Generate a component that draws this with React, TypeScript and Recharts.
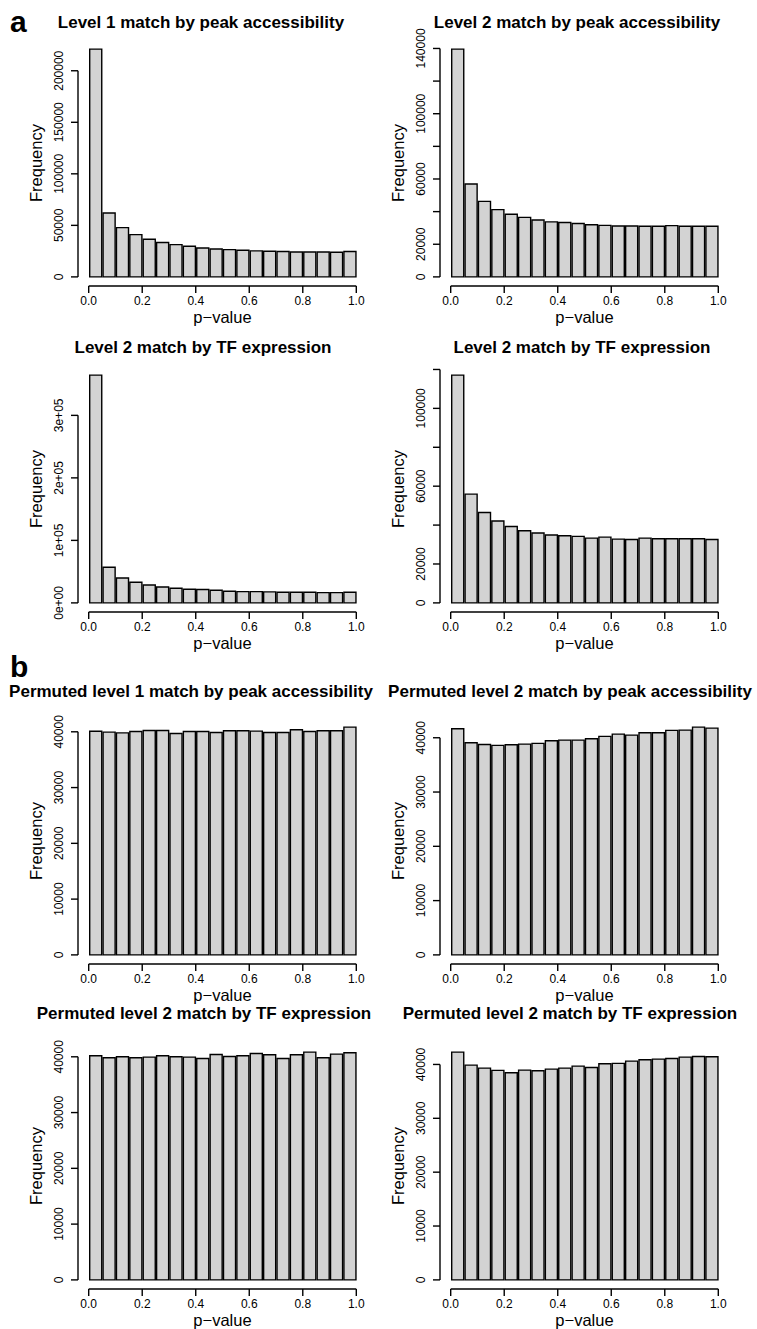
import React from 'react';
import { BarChart, Bar, XAxis, YAxis, ReferenceLine } from 'recharts';

// 20 bins of width 0.05, keyed by their midpoints
const binMids = [
  0.025, 0.075, 0.125, 0.175, 0.225, 0.275, 0.325, 0.375, 0.425, 0.475,
  0.525, 0.575, 0.625, 0.675, 0.725, 0.775, 0.825, 0.875, 0.925, 0.975,
];
const xTicks = [0, 0.2, 0.4, 0.6, 0.8, 1.0];

// panel a
const level1Peak = [221000, 62000, 47800, 41000, 36500, 33300, 31300, 29700, 28100, 27100, 26500, 25800, 25200, 24900, 24600, 24200, 24200, 24200, 23900, 24600];
const level2Peak = [139600, 56900, 46300, 41200, 38400, 36500, 34900, 33700, 33300, 32700, 32000, 31600, 31200, 31200, 31000, 31000, 31400, 31000, 31000, 31000];
const level2TfA = [364400, 56900, 39900, 33000, 28700, 25500, 23400, 21800, 21300, 20200, 18600, 18100, 18100, 17600, 17000, 17000, 17000, 16500, 16500, 17000];
const level2TfB = [117100, 55900, 46500, 42100, 39300, 37100, 35900, 34900, 34500, 34200, 33300, 33800, 32800, 32600, 33300, 33000, 33000, 33000, 33000, 32600];

// panel b
const permLevel1Peak = [40100, 39940, 39800, 40060, 40240, 40240, 39700, 40060, 40060, 39880, 40180, 40180, 40120, 39880, 39880, 40360, 40060, 40180, 40180, 40840];
const permLevel2Peak = [41660, 39080, 38770, 38590, 38710, 38830, 38960, 39450, 39570, 39570, 39820, 40250, 40670, 40490, 40920, 40920, 41350, 41410, 41960, 41780];
const permLevel2TfA = [40180, 39820, 40000, 39820, 39940, 40180, 40000, 39940, 39700, 40420, 40060, 40180, 40600, 40360, 39700, 40360, 40840, 39820, 40480, 40720];
const permLevel2TfB = [42290, 39880, 39320, 38890, 38450, 38950, 38830, 39130, 39320, 39690, 39440, 40120, 40190, 40620, 40870, 40990, 41110, 41360, 41480, 41420];

// y ticks and the labels R kept (empty = tick without label)
const ticks200k = [0, 50000, 100000, 150000, 200000];
const labels200k = ['0', '50000', '100000', '150000', '200000'];
const ticks140k = [0, 20000, 40000, 60000, 80000, 100000, 120000, 140000];
const labels140k = ['0', '20000', '', '60000', '', '100000', '', '140000'];
const ticks3e5 = [0, 100000, 200000, 300000];
const labels3e5 = ['0e+00', '1e+05', '2e+05', '3e+05'];
const ticks120k = [0, 20000, 40000, 60000, 80000, 100000, 120000];
const labels120k = ['0', '20000', '', '60000', '', '100000', ''];
const ticks40k = [0, 10000, 20000, 30000, 40000];
const labels40k = ['0', '10000', '20000', '30000', '40000'];

const FONT = '"Liberation Sans", Arial, Helvetica, sans-serif';
const PLOT_W = 289;
const PLOT_H = 246;
const TOP_PAD = 36;
const LINE_W = 1.4;
const TICK_FONT = 12;
const LAB_FONT = 16.5;

type HistProps = {
  values: number[];
  yTicks: number[];
  yLabels: string[];
  left: number;
  plotTop: number;
  width: number;
  axisWidth: number;
};

const Histogram = ({ values, yTicks, yLabels, left, plotTop, width, axisWidth }: HistProps) => {
  const data = binMids.map((mid, i) => ({ mid, count: values[i] }));
  const ymax = Math.max(...values);
  const yDomain: [number, number] = [-0.04 * ymax, 1.04 * ymax];
  const lastTick = yTicks[yTicks.length - 1];
  const barW = (PLOT_W * 0.05) / 1.08;

  const renderYTick = (props: any) => {
    const { x, y, payload } = props;
    const idx = yTicks.indexOf(payload.value);
    const label = idx >= 0 ? yLabels[idx] : '';
    return (
      <g>
        <line x1={x - 7} y1={y} x2={x} y2={y} stroke="#000" strokeWidth={LINE_W} />
        {label && (
          <text
            x={x - 15}
            y={y}
            transform={`rotate(-90, ${x - 15}, ${y})`}
            textAnchor="middle"
            fontSize={TICK_FONT}
            fontFamily={FONT}
            fill="#000"
          >
            {label}
          </text>
        )}
      </g>
    );
  };

  return (
    <div style={{ position: 'absolute', left, top: plotTop - TOP_PAD }}>
      <BarChart
        width={width}
        height={TOP_PAD + PLOT_H + 44}
        data={data}
        margin={{ top: TOP_PAD, right: width - axisWidth - PLOT_W, bottom: 0, left: 0 }}
        barCategoryGap={0}
        barGap={0}
      >
        <XAxis
          dataKey="mid"
          type="number"
          domain={[-0.04, 1.04]}
          ticks={xTicks}
          allowDataOverflow
          axisLine={false}
          tickSize={7}
          tickMargin={3}
          tickLine={{ stroke: '#000', strokeWidth: LINE_W }}
          tick={{ fill: '#000', fontSize: TICK_FONT, fontFamily: FONT }}
          tickFormatter={(v: number) => v.toFixed(1)}
          height={44}
          label={{
            content: (p: any) => {
              const vb = p.viewBox || {};
              return (
                <text
                  x={vb.x + vb.width / 2}
                  y={vb.y + 36.5}
                  textAnchor="middle"
                  fontSize={LAB_FONT}
                  fontFamily={FONT}
                  fill="#000"
                >
                  p−value
                </text>
              );
            },
          }}
        />
        <YAxis
          type="number"
          domain={yDomain}
          ticks={yTicks}
          allowDataOverflow
          width={axisWidth}
          axisLine={false}
          tickLine={false}
          tickSize={0}
          tickMargin={0}
          tick={renderYTick}
          label={{
            content: (p: any) => {
              const vb = p.viewBox || {};
              const lx = vb.x + vb.width - 36;
              const ly = vb.y + vb.height / 2;
              return (
                <text
                  x={lx}
                  y={ly}
                  transform={`rotate(-90, ${lx}, ${ly})`}
                  textAnchor="middle"
                  fontSize={LAB_FONT}
                  fontFamily={FONT}
                  fill="#000"
                >
                  Frequency
                </text>
              );
            },
          }}
        />
        <Bar
          dataKey="count"
          fill="#d3d3d3"
          stroke="#000"
          strokeWidth={LINE_W}
          barSize={barW}
          isAnimationActive={false}
        />
        <ReferenceLine
          segment={[{ x: 0, y: yDomain[0] }, { x: 1, y: yDomain[0] }]}
          stroke="#000"
          strokeWidth={LINE_W}
          ifOverflow="visible"
        />
        <ReferenceLine
          segment={[{ x: -0.04, y: 0 }, { x: -0.04, y: lastTick }]}
          stroke="#000"
          strokeWidth={LINE_W}
          ifOverflow="visible"
        />
      </BarChart>
    </div>
  );
};

const LEFT = { left: 0, width: 378, axisWidth: 78 };
const RIGHT = { left: 378, width: 379, axisWidth: 62 };

const titles = [
  { text: 'Level 1 match by peak accessibility', x: 201, y: 28 },
  { text: 'Level 2 match by peak accessibility', x: 577, y: 28 },
  { text: 'Level 2 match by TF expression', x: 203, y: 353 },
  { text: 'Level 2 match by TF expression', x: 582, y: 353 },
  { text: 'Permuted level 1 match by peak accessibility', x: 191, y: 697 },
  { text: 'Permuted level 2 match by peak accessibility', x: 570, y: 697 },
  { text: 'Permuted level 2 match by TF expression', x: 204, y: 1019 },
  { text: 'Permuted level 2 match by TF expression', x: 570, y: 1019 },
];

const App = () => {
  return (
    <div style={{ position: 'absolute', left: 0, top: 0, width: 757, height: 1329, background: '#fff', overflow: 'hidden' }}>
      <Histogram values={level1Peak} yTicks={ticks200k} yLabels={labels200k} plotTop={40} {...LEFT} />
      <Histogram values={level2Peak} yTicks={ticks140k} yLabels={labels140k} plotTop={40} {...RIGHT} />
      <Histogram values={level2TfA} yTicks={ticks3e5} yLabels={labels3e5} plotTop={366} {...LEFT} />
      <Histogram values={level2TfB} yTicks={ticks120k} yLabels={labels120k} plotTop={366} {...RIGHT} />
      <Histogram values={permLevel1Peak} yTicks={ticks40k} yLabels={labels40k} plotTop={718} {...LEFT} />
      <Histogram values={permLevel2Peak} yTicks={ticks40k} yLabels={labels40k} plotTop={718} {...RIGHT} />
      <Histogram values={permLevel2TfA} yTicks={ticks40k} yLabels={labels40k} plotTop={1043} {...LEFT} />
      <Histogram values={permLevel2TfB} yTicks={ticks40k} yLabels={labels40k} plotTop={1043} {...RIGHT} />
      <svg
        width={757}
        height={1329}
        style={{ position: 'absolute', left: 0, top: 0, pointerEvents: 'none' }}
      >
        <text x={10} y={32} fontSize={30} fontWeight="bold" fontFamily={FONT}>a</text>
        <text x={10} y={677} fontSize={30} fontWeight="bold" fontFamily={FONT}>b</text>
        {titles.map((t, i) => (
          <text
            key={i}
            x={t.x}
            y={t.y}
            textAnchor="middle"
            fontSize={17}
            fontWeight="bold"
            fontFamily={FONT}
          >
            {t.text}
          </text>
        ))}
      </svg>
    </div>
  );
};

export default App;
